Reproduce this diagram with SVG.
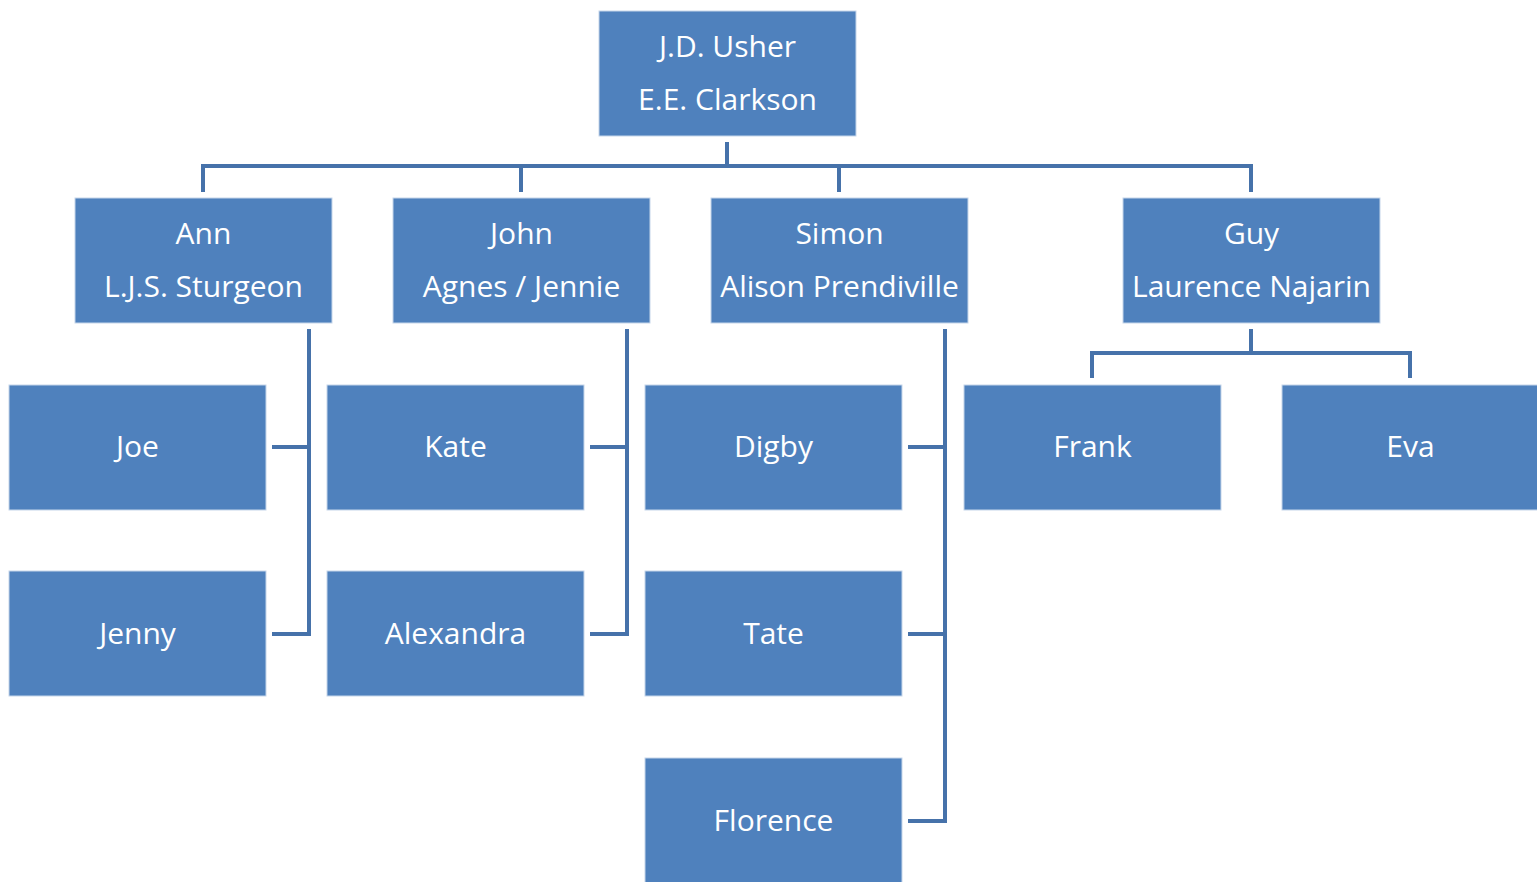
<svg xmlns="http://www.w3.org/2000/svg" width="1537" height="882" viewBox="0 0 1537 882">
  <style>
    .box { fill: #4F81BD; stroke: #C6D6EA; stroke-width: 1; }
    .lbl { fill: #FFFFFF; font-family: "Open Sans", "Liberation Sans", sans-serif; font-size: 30px; text-anchor: middle; }
    .wire { fill: none; stroke: #4672AA; stroke-width: 4; stroke-linejoin: miter; }
  </style>
  <rect width="1537" height="882" fill="#FFFFFF"/>

  <g id="connectors">
    <!-- top level bus -->
    <path class="wire" d="M727,142 V166"/>
    <path class="wire" d="M203,192 V166 H1251 V192"/>
    <path class="wire" d="M521,166 V192"/>
    <path class="wire" d="M839,166 V192"/>
    <!-- Ann's branch -->
    <path class="wire" d="M309,329 V634 H272"/>
    <path class="wire" d="M272,447 H309"/>
    <!-- John's branch -->
    <path class="wire" d="M627,329 V634 H590"/>
    <path class="wire" d="M590,447 H627"/>
    <!-- Simon's branch -->
    <path class="wire" d="M945,329 V821 H908"/>
    <path class="wire" d="M908,447 H945"/>
    <path class="wire" d="M908,634 H945"/>
    <!-- Guy's branch -->
    <path class="wire" d="M1251,329 V353"/>
    <path class="wire" d="M1092,378 V353 H1410 V378"/>
  </g>

  <g id="usher">
    <rect class="box" x="599" y="11" width="257" height="125"/>
    <text class="lbl" x="727.5" y="57">J.D. Usher</text>
    <text class="lbl" x="727.5" y="110">E.E. Clarkson</text>
  </g>

  <g id="ann">
    <rect class="box" x="75" y="198" width="257" height="125"/>
    <text class="lbl" x="203.5" y="244">Ann</text>
    <text class="lbl" x="203.5" y="297">L.J.S. Sturgeon</text>
  </g>
  <g id="john">
    <rect class="box" x="393" y="198" width="257" height="125"/>
    <text class="lbl" x="521.5" y="244">John</text>
    <text class="lbl" x="521.5" y="297">Agnes / Jennie</text>
  </g>
  <g id="simon">
    <rect class="box" x="711" y="198" width="257" height="125"/>
    <text class="lbl" x="839.5" y="244">Simon</text>
    <text class="lbl" x="839.5" y="297">Alison Prendiville</text>
  </g>
  <g id="guy">
    <rect class="box" x="1123" y="198" width="257" height="125"/>
    <text class="lbl" x="1251.5" y="244">Guy</text>
    <text class="lbl" x="1251.5" y="297">Laurence Najarin</text>
  </g>

  <g id="joe">
    <rect class="box" x="9" y="385" width="257" height="125"/>
    <text class="lbl" x="137.5" y="457">Joe</text>
  </g>
  <g id="jenny">
    <rect class="box" x="9" y="571" width="257" height="125"/>
    <text class="lbl" x="137.5" y="644">Jenny</text>
  </g>
  <g id="kate">
    <rect class="box" x="327" y="385" width="257" height="125"/>
    <text class="lbl" x="455.5" y="457">Kate</text>
  </g>
  <g id="alexandra">
    <rect class="box" x="327" y="571" width="257" height="125"/>
    <text class="lbl" x="455.5" y="644">Alexandra</text>
  </g>
  <g id="digby">
    <rect class="box" x="645" y="385" width="257" height="125"/>
    <text class="lbl" x="773.5" y="457">Digby</text>
  </g>
  <g id="tate">
    <rect class="box" x="645" y="571" width="257" height="125"/>
    <text class="lbl" x="773.5" y="644">Tate</text>
  </g>
  <g id="florence">
    <rect class="box" x="645" y="758" width="257" height="125"/>
    <text class="lbl" x="773.5" y="831">Florence</text>
  </g>
  <g id="frank">
    <rect class="box" x="964" y="385" width="257" height="125"/>
    <text class="lbl" x="1092.5" y="457">Frank</text>
  </g>
  <g id="eva">
    <rect class="box" x="1282" y="385" width="257" height="125"/>
    <text class="lbl" x="1410.5" y="457">Eva</text>
  </g>
</svg>
